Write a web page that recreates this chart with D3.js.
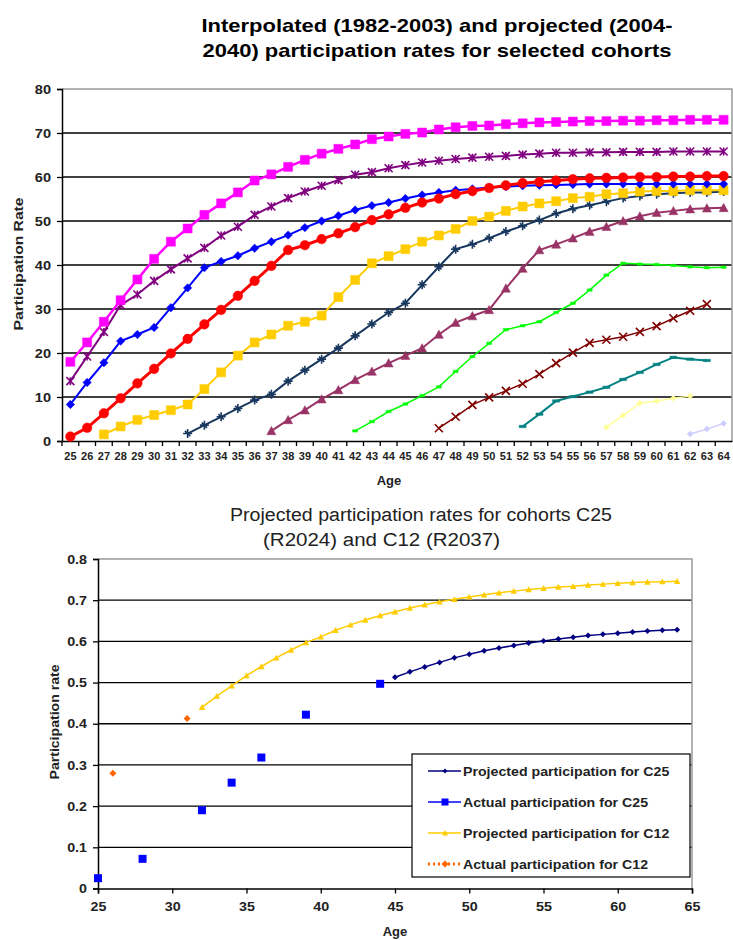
<!DOCTYPE html>
<html>
<head>
<meta charset="utf-8">
<script src="https://cdn.jsdelivr.net/npm/d3@7"></script>
<style>
  body { margin: 0; background: #fff; }
  svg { font-family: "Liberation Sans", Arial, sans-serif; }
</style>
</head>
<body>
<svg id="chart" width="733" height="940"></svg>
<script>
// ---- top chart data: ages and cohort series (start age + values) ----
const ages = [25, 26, 27, 28, 29, 30, 31, 32, 33, 34, 35, 36, 37, 38, 39, 40, 41, 42, 43, 44,
              45, 46, 47, 48, 49, 50, 51, 52, 53, 54, 55, 56, 57, 58, 59, 60, 61, 62, 63, 64];
const yTicksTop = [0, 10, 20, 30, 40, 50, 60, 70, 80];

const magentaStart = 25;
const magentaVals = [18, 22.4, 27.1, 32, 36.7, 41.4, 45.3, 48.3, 51.4, 54, 56.5, 59.2, 60.6, 62.3, 63.9, 65.3,
  66.4, 67.4, 68.6, 69.2, 69.8, 70.1, 70.8, 71.3, 71.6, 71.7, 72, 72.2, 72.4, 72.5, 72.6, 72.7, 72.7, 72.8,
  72.8, 72.9, 72.9, 73, 73, 73];
const purpleStart = 25;
const purpleVals = [13.6, 19.2, 24.8, 30.9, 33.3, 36.4, 39, 41.5, 43.9, 46.7, 48.7, 51.4, 53.3, 55.2, 56.7, 58,
  59.3, 60.5, 61.1, 62, 62.7, 63.3, 63.7, 64.1, 64.4, 64.6, 64.8, 65.1, 65.3, 65.5, 65.5, 65.6, 65.6, 65.7,
  65.7, 65.7, 65.8, 65.8, 65.8, 65.8];
const blueStart = 25;
const blueVals = [8.3, 13.3, 17.8, 22.7, 24.2, 25.8, 30.3, 34.8, 39.4, 40.8, 42.1, 43.8, 45.3, 46.8, 48.5, 50,
  51.2, 52.5, 53.5, 54.2, 55.1, 55.9, 56.5, 57, 57.3, 57.6, 57.8, 58, 58.1, 58.2, 58.3, 58.4, 58.4, 58.4,
  58.4, 58.4, 58.4, 58.4, 58.4, 58.4];
const redStart = 25;
const redVals = [1, 3, 6.3, 9.7, 13.1, 16.4, 19.9, 23.2, 26.5, 29.8, 33, 36.4, 39.8, 43.4, 44.5, 45.9, 47.2,
  48.6, 50.2, 51.5, 53, 54.2, 55.1, 56.1, 56.8, 57.5, 58.1, 58.6, 58.9, 59.2, 59.5, 59.7, 59.8, 59.9, 60, 60,
  60.1, 60.1, 60.2, 60.2];
const goldStart = 27;
const goldVals = [1.5, 3.3, 4.8, 5.9, 7, 8.3, 11.8, 15.6, 19.4, 22.4, 24.2, 26.2, 27.1, 28.5, 32.7, 36.6, 40.4,
  42, 43.6, 45.3, 46.7, 48.2, 50, 51, 52.3, 53.3, 54, 54.5, 55.2, 55.5, 56.1, 56.3, 56.7, 56.8, 56.8, 57, 57, 57];
const navyStart = 32;
const navyVals = [1.7, 3.6, 5.5, 7.4, 9.3, 10.6, 13.6, 16.1, 18.6, 21.1, 23.9, 26.6, 29.2, 31.3, 35.5, 39.6,
  43.6, 44.7, 46.1, 47.6, 48.9, 50.2, 51.7, 52.8, 53.6, 54.4, 55.2, 55.7, 56.1, 56.3, 56.5, 56.5, 56.7];
const mauveStart = 37;
const mauveVals = [2.3, 4.8, 7, 9.5, 11.6, 13.9, 15.8, 17.7, 19.4, 21.1, 24.2, 26.9, 28.4, 29.8, 34.7, 39.2,
  43.4, 44.7, 46.1, 47.6, 48.7, 50, 51.1, 51.9, 52.3, 52.7, 52.9, 53];
const greenStart = 42;
const greenVals = [2.3, 4.4, 6.7, 8.4, 10.3, 12.3, 15.8, 19.2, 22.2, 25.3, 26.2, 27.1, 29.2, 31.3, 34.3, 37.7,
  40.4, 40.2, 40.1, 39.9, 39.6, 39.4, 39.5];
const brownStart = 47;
const brownVals = [2.9, 5.5, 8.2, 9.9, 11.4, 13, 15.2, 17.7, 20.1, 22.3, 23, 23.7, 24.8, 26.1, 27.9, 29.6, 31.1];
const tealStart = 52;
const tealVals = [3.3, 6.1, 9.1, 10.1, 11.1, 12.2, 14, 15.6, 17.4, 19, 18.6, 18.3];
const paleYellowStart = 57;
const paleYellowVals = [3.1, 5.8, 8.6, 9.1, 9.7, 10.2];
const lavenderStart = 62;
const lavenderVals = [1.6, 2.7, 4];

// ---- bottom chart data ----
const xTicksBottom = [25, 30, 35, 40, 45, 50, 55, 60, 65];
const yTicksBottom = [0, 0.1, 0.2, 0.3, 0.4, 0.5, 0.6, 0.7, 0.8];
const projC25Ages = [45, 46, 47, 48, 49, 50, 51, 52, 53, 54, 55, 56, 57, 58, 59, 60, 61, 62, 63, 64];
const projC25Vals = [0.513, 0.526, 0.538, 0.549, 0.56, 0.569, 0.577, 0.584, 0.59, 0.596, 0.601, 0.606, 0.61,
  0.614, 0.617, 0.62, 0.623, 0.625, 0.627, 0.628];
const actC25Ages = [25, 28, 32, 34, 36, 39, 44];
const actC25Vals = [0.025, 0.072, 0.19, 0.257, 0.318, 0.422, 0.497];
const projC12Ages = [32, 33, 34, 35, 36, 37, 38, 39, 40, 41, 42, 43, 44, 45, 46, 47, 48, 49, 50, 51, 52, 53,
  54, 55, 56, 57, 58, 59, 60, 61, 62, 63, 64];
const projC12Vals = [0.44, 0.467, 0.492, 0.517, 0.539, 0.56, 0.579, 0.597, 0.611, 0.627, 0.64, 0.652, 0.663,
  0.672, 0.681, 0.689, 0.696, 0.702, 0.708, 0.713, 0.718, 0.722, 0.726, 0.729, 0.732, 0.734, 0.737, 0.739,
  0.741, 0.743, 0.744, 0.745, 0.746];
const actC12Ages = [26, 31];
const actC12Vals = [0.28, 0.413];
const legendLabels = ["Projected participation for C25", "Actual participation for C25",
  "Projected participation for C12", "Actual participation for C12"];

// marker shapes centred on 0,0
function marker(type, r) {
  switch (type) {
    case "square": return `M${-r},${-r}h${2 * r}v${2 * r}h${-2 * r}Z`;
    case "diamond": return `M0,${-r}L${r},0L0,${r}L${-r},0Z`;
    case "triangle": return `M0,${-r}L${r},${r * 0.85}L${-r},${r * 0.85}Z`;
    case "circle": return `M${-r},0a${r},${r} 0 1,0 ${2 * r},0a${r},${r} 0 1,0 ${-2 * r},0Z`;
    case "dash": return `M${-r},-1.2h${2 * r}v2.4h${-2 * r}Z`;
    case "x": return `M${-r},${-r}L${r},${r}M${-r},${r}L${r},${-r}`;
    case "plus": return `M0,${-r}V${r}M${-r},0H${r}M${-r * 0.6},${-r * 0.6}L${r * 0.6},${r * 0.6}`;
    case "asterisk": return `M${-r},${-r}L${r},${r}M${-r},${r}L${r},${-r}M0,${-r}V${r}`;
  }
}
const strokeMarkers = ["x", "plus", "asterisk"];

// the source picture is a little wider than tall, so text is stretched sideways
function widen(sel, k) {
  sel.each(function () {
    const len = this.getComputedTextLength();
    d3.select(this).attr("textLength", len * k).attr("lengthAdjust", "spacingAndGlyphs");
  });
}

const svg = d3.select("#chart");

// ================= TOP CHART =================
const topBox = { left: 62, right: 732, top: 89, bottom: 441 };
const x1 = d3.scaleBand().domain(ages).range([topBox.left, topBox.right]);
const y1 = d3.scaleLinear().domain([0, 80]).range([topBox.bottom, topBox.top]);

svg.append("text").attr("x", 437).attr("y", 32).attr("text-anchor", "middle")
  .attr("font-size", "19px").attr("font-weight", "bold")
  .attr("textLength", 471).attr("lengthAdjust", "spacingAndGlyphs")
  .text("Interpolated (1982-2003) and projected (2004-");
svg.append("text").attr("x", 437).attr("y", 57).attr("text-anchor", "middle")
  .attr("font-size", "19px").attr("font-weight", "bold")
  .attr("textLength", 469).attr("lengthAdjust", "spacingAndGlyphs")
  .text("2040) participation rates for selected cohorts");

// grid
svg.append("g").selectAll("line").data(yTicksTop.filter(d => d > 0 && d < 80)).join("line")
  .attr("x1", topBox.left).attr("x2", topBox.right)
  .attr("y1", d => y1(d)).attr("y2", d => y1(d))
  .attr("stroke", "#000").attr("stroke-width", 1.3);
svg.append("path")
  .attr("d", `M${topBox.left},${topBox.top}H${topBox.right}V${topBox.bottom}`)
  .attr("fill", "none").attr("stroke", "#999").attr("stroke-width", 1.5);

// axes
const yAxis1 = svg.append("g").attr("transform", `translate(${topBox.left},0)`)
  .call(d3.axisLeft(y1).tickValues(yTicksTop).tickSize(5).tickPadding(6));
const xAxis1 = svg.append("g").attr("transform", `translate(0,${topBox.bottom})`)
  .call(d3.axisBottom(x1).tickSize(0).tickPadding(12));
// band boundary ticks
xAxis1.append("g").selectAll("line").data(ages).join("line")
  .attr("x1", d => x1(d)).attr("x2", d => x1(d)).attr("y1", 0).attr("y2", 5)
  .attr("stroke", "#000").attr("stroke-width", 1.3);
[yAxis1, xAxis1].forEach(g => {
  g.selectAll(".domain").attr("stroke", "#000").attr("stroke-width", 1.5);
  g.selectAll(".tick line").attr("stroke", "#000").attr("stroke-width", 1.3);
  g.selectAll("text").attr("font-weight", "bold").attr("fill", "#222").attr("font-family", null);
});
xAxis1.selectAll(".tick text").attr("font-size", "10px").call(widen, 1.1);
yAxis1.selectAll(".tick text").attr("font-size", "13px").call(widen, 1.12);

svg.append("text").attr("transform", `translate(23,264) rotate(-90)`)
  .attr("text-anchor", "middle").attr("font-size", "13px").attr("font-weight", "bold")
  .attr("fill", "#222").attr("textLength", 133).attr("lengthAdjust", "spacingAndGlyphs")
  .text("Participation Rate");
svg.append("text").attr("x", 389).attr("y", 485).attr("text-anchor", "middle")
  .attr("font-size", "13px").attr("font-weight", "bold").attr("fill", "#222").text("Age");

const topSeries = [
  { start: lavenderStart, vals: lavenderVals, color: "#ccccff", w: 1.5, m: "diamond", r: 3 },
  { start: paleYellowStart, vals: paleYellowVals, color: "#ffff99", w: 1.5, m: "diamond", r: 3 },
  { start: tealStart, vals: tealVals, color: "#008080", w: 2, m: "dash", r: 3.5 },
  { start: brownStart, vals: brownVals, color: "#800000", w: 1.5, m: "x", r: 4 },
  { start: greenStart, vals: greenVals, color: "#00ff00", w: 1.5, m: "dash", r: 2.5 },
  { start: mauveStart, vals: mauveVals, color: "#993366", w: 2, m: "triangle", r: 4.5 },
  { start: navyStart, vals: navyVals, color: "#17375e", w: 2, m: "plus", r: 4.5 },
  { start: goldStart, vals: goldVals, color: "#ffcc00", w: 2, m: "square", r: 4.5 },
  { start: purpleStart, vals: purpleVals, color: "#800080", w: 2, m: "asterisk", r: 4 },
  { start: blueStart, vals: blueVals, color: "#0000ff", w: 2, m: "diamond", r: 4.2 },
  { start: redStart, vals: redVals, color: "#ff0000", w: 3, m: "circle", r: 4.8 },
  { start: magentaStart, vals: magentaVals, color: "#ff00ff", w: 2.5, m: "square", r: 4.5 }
];

const line1 = d3.line().x(d => x1(d.age) + x1.bandwidth() / 2).y(d => y1(d.v));
topSeries.forEach(s => {
  const pts = s.vals.map((v, i) => ({ age: s.start + i, v }));
  const g = svg.append("g");
  g.append("path").datum(pts).attr("d", line1)
    .attr("fill", "none").attr("stroke", s.color).attr("stroke-width", s.w);
  const isStroke = strokeMarkers.includes(s.m);
  g.selectAll("path.mk").data(pts).join("path").attr("class", "mk")
    .attr("transform", d => `translate(${x1(d.age) + x1.bandwidth() / 2},${y1(d.v)})`)
    .attr("d", marker(s.m, s.r))
    .attr("fill", isStroke ? "none" : s.color)
    .attr("stroke", s.color).attr("stroke-width", isStroke ? 1.6 : 0.5);
});

// ================= BOTTOM CHART =================
const botBox = { left: 98, right: 692, top: 559, bottom: 888.5 };
const x2 = d3.scaleLinear().domain([25, 65]).range([botBox.left, botBox.right]);
const y2 = d3.scaleLinear().domain([0, 0.8]).range([botBox.bottom, botBox.top]);

svg.append("text").attr("x", 230).attr("y", 521).attr("font-size", "18px").attr("fill", "#222")
  .attr("textLength", 382).attr("lengthAdjust", "spacingAndGlyphs")
  .text("Projected participation rates for cohorts C25");
svg.append("text").attr("x", 263).attr("y", 546).attr("font-size", "18px").attr("fill", "#222")
  .attr("textLength", 237).attr("lengthAdjust", "spacingAndGlyphs")
  .text("(R2024) and C12 (R2037)");

svg.append("g").selectAll("line").data(yTicksBottom.filter(d => d > 0 && d < 0.8)).join("line")
  .attr("x1", botBox.left).attr("x2", botBox.right)
  .attr("y1", d => y2(d)).attr("y2", d => y2(d))
  .attr("stroke", "#000").attr("stroke-width", 1.3);
svg.append("path")
  .attr("d", `M${botBox.left},${botBox.top}H${botBox.right}V${botBox.bottom}`)
  .attr("fill", "none").attr("stroke", "#999").attr("stroke-width", 1.5);

const yAxis2 = svg.append("g").attr("transform", `translate(${botBox.left},0)`)
  .call(d3.axisLeft(y2).tickValues(yTicksBottom).tickFormat(d => d === 0 ? "0" : d3.format(".1f")(d))
    .tickSize(5).tickPadding(6));
const xAxis2 = svg.append("g").attr("transform", `translate(0,${botBox.bottom})`)
  .call(d3.axisBottom(x2).tickValues(xTicksBottom).tickSize(5).tickPadding(8));
[yAxis2, xAxis2].forEach(g => {
  g.selectAll(".domain").attr("stroke", "#000").attr("stroke-width", 1.5);
  g.selectAll(".tick line").attr("stroke", "#000").attr("stroke-width", 1.3);
  g.selectAll("text").attr("font-weight", "bold").attr("fill", "#222")
    .attr("font-size", "13px").attr("font-family", null).call(widen, 1.1);
});

svg.append("text").attr("transform", `translate(59,722) rotate(-90)`)
  .attr("text-anchor", "middle").attr("font-size", "13px").attr("font-weight", "bold")
  .attr("fill", "#222").attr("textLength", 115).attr("lengthAdjust", "spacingAndGlyphs")
  .text("Participation rate");
svg.append("text").attr("x", 395).attr("y", 936).attr("text-anchor", "middle")
  .attr("font-size", "13px").attr("font-weight", "bold").attr("fill", "#222").text("Age");

const line2 = d3.line().x(d => x2(d.age)).y(d => y2(d.v));
const toPts = (a, v) => a.map((age, i) => ({ age, v: v[i] }));

const botSeries = [
  { pts: toPts(projC12Ages, projC12Vals), color: "#ffcc00", line: true, m: "triangle", r: 3.2 },
  { pts: toPts(projC25Ages, projC25Vals), color: "#000080", line: true, m: "diamond", r: 3 },
  { pts: toPts(actC25Ages, actC25Vals), color: "#0000ff", line: false, m: "square", r: 4 },
  { pts: toPts(actC12Ages, actC12Vals), color: "#ff6600", line: false, m: "diamond", r: 3.5 }
];
botSeries.forEach(s => {
  const g = svg.append("g");
  if (s.line) {
    g.append("path").datum(s.pts).attr("d", line2)
      .attr("fill", "none").attr("stroke", s.color).attr("stroke-width", 1.5);
  }
  g.selectAll("path.mk").data(s.pts).join("path").attr("class", "mk")
    .attr("transform", d => `translate(${x2(d.age)},${y2(d.v)})`)
    .attr("d", marker(s.m, s.r)).attr("fill", s.color);
});

// legend
const legend = svg.append("g").attr("transform", "translate(412,754)");
legend.append("rect").attr("width", 278).attr("height", 123)
  .attr("fill", "#fff").attr("stroke", "#000").attr("stroke-width", 1.2);
const legendStyles = [
  { color: "#000080", m: "diamond", r: 2.5, dash: null },
  { color: "#0000ff", m: "square", r: 3.5, dash: null },
  { color: "#ffcc00", m: "triangle", r: 3, dash: null },
  { color: "#ff6600", m: "diamond", r: 3.5, dash: "2,3" }
];
legendLabels.forEach((label, i) => {
  const st = legendStyles[i];
  const row = legend.append("g").attr("transform", `translate(0,${17 + i * 31})`);
  row.append("line").attr("x1", 16).attr("x2", 49).attr("y1", 0).attr("y2", 0)
    .attr("stroke", st.color).attr("stroke-width", st.dash ? 3 : 1.5)
    .attr("stroke-dasharray", st.dash);
  row.append("path").attr("transform", "translate(33,0)").attr("d", marker(st.m, st.r))
    .attr("fill", st.color);
  row.append("text").attr("x", 51).attr("y", 5).attr("font-size", "13px")
    .attr("font-weight", "bold").attr("fill", "#222").text(label).call(widen, 1.09);
});
</script>
</body>
</html>
